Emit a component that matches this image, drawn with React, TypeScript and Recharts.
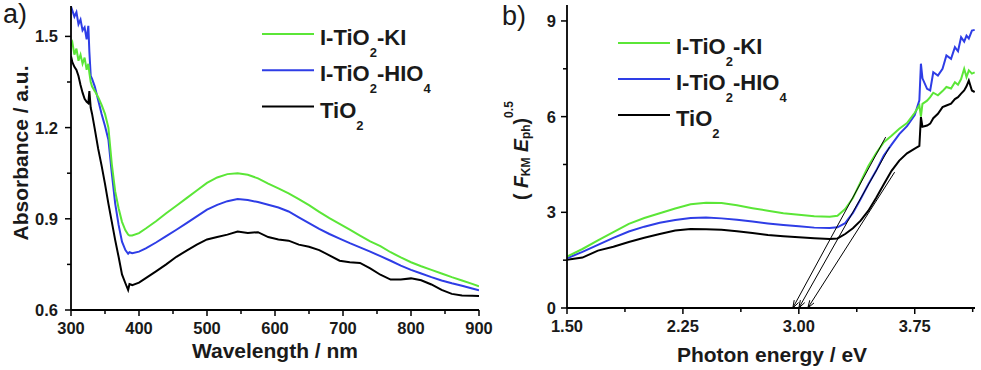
import React from 'react';
import { LineChart, Line, XAxis, YAxis, ReferenceLine } from 'recharts';

// ---- panel a: absorbance spectra ----
const wavelength = [
  300, 302, 305, 308, 311, 314, 317, 320, 323, 325.5, 327, 329, 331, 335, 340, 345, 350, 355, 360, 365,
  370, 375, 380, 384, 386, 390, 400, 410, 425, 440, 455, 470, 485, 500, 515, 530, 545, 560, 575, 590,
  605, 620, 635, 650, 665, 680, 695, 710, 725, 740, 755, 770, 785, 800, 815, 830, 845, 860, 875, 890, 900,
];
const absKI = [
  1.47, 1.48, 1.44, 1.46, 1.42, 1.44, 1.41, 1.43, 1.39, 1.41, 1.38, 1.35, 1.335, 1.32, 1.3, 1.275, 1.245, 1.2, 1.08, 0.99,
  0.935, 0.89, 0.862, 0.848, 0.845, 0.845, 0.853, 0.868, 0.892, 0.918, 0.943, 0.968, 0.993, 1.018, 1.036, 1.047, 1.05, 1.045, 1.033, 1.016,
  1.0, 0.984, 0.965, 0.945, 0.923, 0.902, 0.883, 0.864, 0.845, 0.826, 0.81, 0.79, 0.773, 0.757, 0.744, 0.732, 0.72, 0.708, 0.697, 0.686, 0.678,
];
const absHIO = [
  1.598, 1.585, 1.565, 1.58, 1.54, 1.555, 1.52, 1.53, 1.49, 1.535, 1.45, 1.37, 1.36, 1.335, 1.29, 1.245, 1.205, 1.16, 1.05, 0.95,
  0.88, 0.825, 0.797, 0.785, 0.79, 0.787, 0.792, 0.803, 0.822, 0.843, 0.864, 0.886, 0.908, 0.93, 0.946, 0.958, 0.965, 0.962, 0.955, 0.946,
  0.937, 0.924, 0.905, 0.886, 0.867, 0.85, 0.835, 0.82, 0.806, 0.792, 0.777, 0.762, 0.746, 0.732, 0.72, 0.708, 0.697, 0.688, 0.68, 0.671, 0.665,
];
const absTiO = [
  1.435, 1.415, 1.4, 1.39, 1.37, 1.34, 1.315, 1.295, 1.285, 1.28, 1.32, 1.265, 1.245, 1.195, 1.13, 1.075, 1.015, 0.95, 0.89, 0.83,
  0.775, 0.717, 0.688, 0.666, 0.685, 0.682, 0.69, 0.705, 0.727, 0.75, 0.775, 0.795, 0.815, 0.832, 0.84, 0.848, 0.858, 0.853, 0.856, 0.84,
  0.832, 0.828, 0.815, 0.808, 0.797, 0.78, 0.762, 0.757, 0.755, 0.737, 0.716, 0.7, 0.7, 0.704, 0.698, 0.684, 0.666, 0.653, 0.648, 0.647, 0.646,
];
const waveTicks = [300, 350, 400, 450, 500, 550, 600, 650, 700, 750, 800, 850, 900];
const absTicks = [0.6, 0.75, 0.9, 1.05, 1.2, 1.35, 1.5];

// ---- panel b: Tauc-type plot ----
const energy = [
  1.5, 1.6, 1.7, 1.8, 1.9, 2.0, 2.1, 2.2, 2.3, 2.4, 2.5, 2.6, 2.7, 2.8, 2.9, 3.0, 3.1, 3.2, 3.25, 3.3,
  3.35, 3.4, 3.45, 3.5, 3.55, 3.6, 3.65, 3.7, 3.75, 3.78, 3.79, 3.8, 3.83, 3.85, 3.87, 3.9, 3.93, 3.955, 3.985, 4.01,
  4.03, 4.05, 4.07, 4.085, 4.1, 4.12, 4.138,
];
const kmKI = [
  1.61, 1.85, 2.12, 2.38, 2.64, 2.82, 2.97, 3.12, 3.25, 3.3, 3.29, 3.22, 3.13, 3.05, 2.97, 2.92, 2.88, 2.86, 2.89, 3.1,
  3.45, 3.95, 4.45, 4.85, 5.2, 5.4, 5.62, 5.8, 6.12, 6.35, 6.0, 6.4, 6.5, 6.61, 6.75, 6.67, 6.8, 6.93, 6.88, 7.08,
  7.0, 7.18, 7.5, 7.24, 7.45, 7.35, 7.39,
];
const kmHIO = [
  1.56, 1.76, 1.98, 2.2, 2.4, 2.55, 2.67, 2.76, 2.82, 2.84, 2.81, 2.77, 2.71, 2.65, 2.6, 2.56, 2.52, 2.51, 2.53, 2.66,
  2.98, 3.42, 3.88, 4.3, 4.78, 5.12, 5.45, 5.7, 6.05, 6.51, 7.66, 7.2, 6.87, 6.82, 7.39, 7.29, 7.5, 7.92, 7.81, 8.18,
  8.05, 8.49, 8.35, 8.54, 8.45, 8.7, 8.72,
];
const kmTiO = [
  1.51, 1.58, 1.8, 1.92, 2.07, 2.2, 2.32, 2.43, 2.48, 2.47, 2.45, 2.41, 2.35, 2.29, 2.25, 2.22, 2.19, 2.16, 2.18, 2.32,
  2.5, 2.74, 3.05, 3.45, 3.88, 4.3, 4.62, 4.85, 5.0, 5.08, 5.99, 5.68, 5.72, 5.78, 5.95, 6.09, 6.3, 6.35, 6.41, 6.55,
  6.61, 6.72, 6.82, 6.95, 7.13, 6.82, 6.77,
];
const energyTicks = [1.5, 1.875, 2.25, 2.625, 3.0, 3.375, 3.75, 4.125];
const kmTicks = [0, 1.5, 3, 4.5, 6, 7.5, 9];

// band-gap extrapolation lines: foot on the energy axis -> upper end
const tangentFoot = [2.961, 3.0, 3.058];
const tangentTopE = [3.562, 3.588, 3.62];
const tangentTopV = [5.36, 5.05, 4.26];

const GREEN = '#5be637';
const BLUE = '#2e3de6';
const BLACK = '#000000';
const FONT = '"Liberation Sans", Arial, sans-serif';

const legendItems = [
  { color: GREEN, main: 'I-TiO', sub: '2', tail: '-KI', sub2: '' },
  { color: BLUE, main: 'I-TiO', sub: '2', tail: '-HIO', sub2: '4' },
  { color: BLACK, main: 'TiO', sub: '2', tail: '', sub2: '' },
];

const rowsA = wavelength.map((x, i) => ({ x, ki: absKI[i], hio: absHIO[i], tio: absTiO[i] }));
const rowsB = energy.map((x, i) => ({ x, ki: kmKI[i], hio: kmHIO[i], tio: kmTiO[i] }));

const isMajor = (v: number, start: number, step: number) => {
  const k = (v - start) / step;
  return Math.abs(k - Math.round(k)) < 1e-6;
};

const bottomTick = (start: number, step: number, digits: number) => (p: any) => {
  const v = p.payload.value;
  const major = isMajor(v, start, step);
  return (
    <g>
      <line x1={p.x} x2={p.x} y1={p.y} y2={p.y + (major ? 6 : 4)} stroke="#000" strokeWidth={1.5} />
      {major && (
        <text x={p.x} y={p.y + 24} textAnchor="middle" fontFamily={FONT} fontWeight="bold" fontSize={16.5} fill="#1a1a1a">
          {v.toFixed(digits)}
        </text>
      )}
    </g>
  );
};

const leftTick = (start: number, step: number, digits: number, gap: number) => (p: any) => {
  const v = p.payload.value;
  const major = isMajor(v, start, step);
  return (
    <g>
      <line x1={p.x - (major ? 6 : 4)} x2={p.x} y1={p.y} y2={p.y} stroke="#000" strokeWidth={1.5} />
      {major && (
        <text x={p.x - gap} y={p.y + 6} textAnchor="end" fontFamily={FONT} fontWeight="bold" fontSize={16.5} fill="#1a1a1a">
          {v.toFixed(digits)}
        </text>
      )}
    </g>
  );
};

const ArrowLine = (props: any) => {
  const { x1, y1, x2, y2 } = props;
  // arrow head sits on the first point (the axis foot)
  const ang = Math.atan2(y1 - y2, x1 - x2);
  const L = 8;
  const s = 0.32;
  const ax = x1 - L * Math.cos(ang - s);
  const ay = y1 - L * Math.sin(ang - s);
  const bx = x1 - L * Math.cos(ang + s);
  const by = y1 - L * Math.sin(ang + s);
  return (
    <g>
      <line x1={x1} y1={y1} x2={x2} y2={y2} stroke="#000" strokeWidth={1} />
      <path d={`M${ax},${ay} L${x1},${y1} L${bx},${by}`} fill="none" stroke="#000" strokeWidth={1} />
    </g>
  );
};

const axisLine = { stroke: '#000', strokeWidth: 1.8 };

const Legend = ({ x, y, gap }: { x: number; y: number; gap: number }) => (
  <g fontFamily={FONT} fontWeight="bold" fill="#1a1a1a">
    {legendItems.map((it, i) => {
      const cy = y + i * gap;
      return (
        <g key={i}>
          <line x1={x} x2={x + 52} y1={cy} y2={cy} stroke={it.color} strokeWidth={2} />
          <text x={x + 58} y={cy + 11} fontSize={22}>
            {it.main}
            <tspan fontSize={13} dy={12}>{it.sub}</tspan>
            <tspan fontSize={22} dy={-12}>{it.tail}</tspan>
            {it.sub2 && <tspan fontSize={13} dy={12}>{it.sub2}</tspan>}
          </text>
        </g>
      );
    })}
  </g>
);

export default function App() {
  return (
    <div style={{ position: 'absolute', left: 0, top: 0, width: 981, height: 370, background: '#fff', overflow: 'hidden' }}>
      <div style={{ position: 'absolute', left: 0, top: 0 }}>
        <LineChart width={500} height={370} data={rowsA} margin={{ top: 6, right: 21, bottom: 0, left: 0 }}>
          <XAxis dataKey="x" type="number" domain={[300, 900]} ticks={waveTicks} interval={0} height={60}
            tickLine={false} tickSize={0} tickMargin={0} axisLine={axisLine} allowDataOverflow
            tick={bottomTick(300, 100, 0)} />
          <XAxis xAxisId="top" orientation="top" dataKey="x" type="number" domain={[300, 900]} height={0}
            tick={false} tickLine={false} axisLine={axisLine} allowDataOverflow />
          <YAxis type="number" domain={[0.6, 1.6]} ticks={absTicks} interval={0} width={71}
            tickLine={false} tickSize={0} tickMargin={0} axisLine={axisLine} allowDataOverflow
            tick={leftTick(0.6, 0.3, 1, 13)} />
          <YAxis yAxisId="right" orientation="right" type="number" domain={[0.6, 1.6]} width={0}
            tick={false} tickLine={false} axisLine={axisLine} allowDataOverflow />
          <Line dataKey="tio" stroke={BLACK} strokeWidth={2} dot={false} isAnimationActive={false} />
          <Line dataKey="hio" stroke={BLUE} strokeWidth={2} dot={false} isAnimationActive={false} />
          <Line dataKey="ki" stroke={GREEN} strokeWidth={2} dot={false} isAnimationActive={false} />
        </LineChart>
      </div>
      <div style={{ position: 'absolute', left: 490, top: 0 }}>
        <LineChart width={491} height={370} data={rowsB} margin={{ top: 5, right: 6, bottom: 0, left: 0 }}>
          <XAxis dataKey="x" type="number" domain={[1.5, 4.14]} ticks={energyTicks} interval={0} height={62}
            tickLine={false} tickSize={0} tickMargin={0} axisLine={axisLine} allowDataOverflow
            tick={bottomTick(1.5, 0.75, 2)} />
          <XAxis xAxisId="top" orientation="top" dataKey="x" type="number" domain={[1.5, 4.14]} height={0}
            tick={false} tickLine={false} axisLine={axisLine} allowDataOverflow />
          <YAxis type="number" domain={[0, 9.5]} ticks={kmTicks} interval={0} width={77}
            tickLine={false} tickSize={0} tickMargin={0} axisLine={axisLine} allowDataOverflow
            tick={leftTick(0, 3, 0, 11)} />
          <YAxis yAxisId="right" orientation="right" type="number" domain={[0, 9.5]} width={0}
            tick={false} tickLine={false} axisLine={axisLine} allowDataOverflow />
          <Line dataKey="tio" stroke={BLACK} strokeWidth={2} dot={false} isAnimationActive={false} />
          <Line dataKey="hio" stroke={BLUE} strokeWidth={2} dot={false} isAnimationActive={false} />
          <Line dataKey="ki" stroke={GREEN} strokeWidth={2} dot={false} isAnimationActive={false} />
          {tangentFoot.map((e0, i) => (
            <ReferenceLine key={i} segment={[{ x: e0, y: 0 }, { x: tangentTopE[i], y: tangentTopV[i] }]}
              stroke="#000" shape={ArrowLine} />
          ))}
        </LineChart>
      </div>
      <svg width={981} height={370} style={{ position: 'absolute', left: 0, top: 0, pointerEvents: 'none' }}>
        <text x={3} y={23} fontFamily={FONT} fontSize={27} fill="#1a1a1a">a)</text>
        <text x={502} y={25} fontFamily={FONT} fontSize={27} fill="#1a1a1a">b)</text>
        <Legend x={262} y={34} gap={36.3} />
        <Legend x={618} y={43} gap={36} />
        <text x={275} y={358} textAnchor="middle" fontFamily={FONT} fontWeight="bold" fontSize={21} fill="#1a1a1a">
          Wavelength / nm
        </text>
        <text x={772} y={362} textAnchor="middle" fontFamily={FONT} fontWeight="bold" fontSize={21} fill="#1a1a1a">
          Photon energy / eV
        </text>
        <text x={28} y={153} textAnchor="middle" transform="rotate(-90 28 153)" fontFamily={FONT} fontWeight="bold"
          fontSize={21} fill="#1a1a1a">
          Absorbance / a.u.
        </text>
        <text x={528} y={200} textAnchor="start" transform="rotate(-90 528 200)" fontFamily={FONT} fontWeight="bold"
          fontSize={19.5} fill="#1a1a1a">
          {'( '}
          <tspan fontStyle="italic">F</tspan>
          <tspan fontSize={12} dy={2}>KM</tspan>
          <tspan dy={-2}> </tspan>
          <tspan fontStyle="italic">E</tspan>
          <tspan fontSize={12} dy={2}>ph</tspan>
          <tspan dy={-2}>)</tspan>
          <tspan fontSize={12} dy={-15}>0.5</tspan>
        </text>
      </svg>
    </div>
  );
}
